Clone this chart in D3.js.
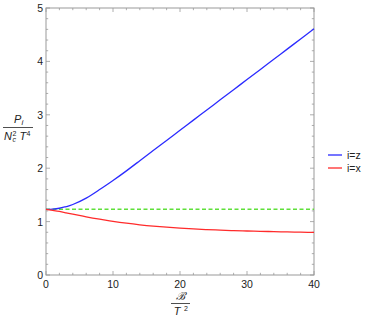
<!DOCTYPE html>
<html><head><meta charset="utf-8">
<script src="https://cdn.jsdelivr.net/npm/d3@7"></script>
<style>body{margin:0;background:#fff}svg{display:block}text{font-family:"Liberation Sans",Arial,sans-serif}</style>
</head><body>
<svg id="c" width="366" height="321"></svg>
<script>
const xs = [0,1,2,3,4,6,8,10,12,14,16,18,20,22,24,26,28,30,32,34,36,38,40];
const blueZ = [1.23,1.235,1.25,1.28,1.32,1.44,1.60,1.77,1.95,2.14,2.33,2.52,2.71,2.90,3.09,3.28,3.47,3.66,3.85,4.04,4.23,4.42,4.61];
const redX = [1.23,1.21,1.19,1.165,1.14,1.09,1.045,1.005,0.97,0.94,0.915,0.895,0.877,0.862,0.85,0.84,0.831,0.824,0.818,0.812,0.807,0.802,0.798];
const greenRef = [1.23,1.23];
const greenX = [0,40];
const xTicks = [0,10,20,30,40];
const yTicks = [0,1,2,3,4,5];
const seriesNames = ["i=z","i=x"];

const svg = d3.select("#c");
const L=46,R=314,T=8,B=275;
const x = d3.scaleLinear().domain([0,40]).range([L,R]);
const y = d3.scaleLinear().domain([0,5]).range([B,T]);
const frameCol="#999";

svg.append("rect").attr("x",L).attr("y",T).attr("width",R-L).attr("height",B-T)
  .attr("fill","none").attr("stroke",frameCol).attr("stroke-width",1);

const xMinor = d3.range(0,40.01,2);
const yMinor = d3.range(0,5.01,0.2);
const tg = svg.append("g").attr("stroke",frameCol).attr("stroke-width",0.8);
xMinor.forEach(v=>{
  const major = xTicks.includes(Math.round(v*100)/100);
  const len = major?4:2.2;
  tg.append("line").attr("x1",x(v)).attr("x2",x(v)).attr("y1",B).attr("y2",B-len);
  tg.append("line").attr("x1",x(v)).attr("x2",x(v)).attr("y1",T).attr("y2",T+len);
});
yMinor.forEach(v=>{
  const r = Math.round(v*100)/100;
  const major = yTicks.includes(r);
  const len = major?4:2.2;
  tg.append("line").attr("y1",y(r)).attr("y2",y(r)).attr("x1",L).attr("x2",L+len);
  tg.append("line").attr("y1",y(r)).attr("y2",y(r)).attr("x1",R).attr("x2",R-len);
});

svg.selectAll(".xl").data(xTicks).enter().append("text")
  .attr("x",d=>x(d)).attr("y",B+13).attr("text-anchor","middle")
  .attr("font-size",10.5).attr("fill","#222").text(d=>d);
svg.selectAll(".yl").data(yTicks).enter().append("text")
  .attr("x",L-3).attr("y",d=>y(d)+4).attr("text-anchor","end")
  .attr("font-size",10.5).attr("fill","#222").text(d=>d);

const line = d3.line().x(d=>x(d[0])).y(d=>y(d[1]));
svg.append("path").datum(greenX.map((v,i)=>[v,greenRef[i]])).attr("d",line)
  .attr("fill","none").attr("stroke","#5fe03a").attr("stroke-width",1.6).attr("stroke-dasharray","4,2.5");
const lineC = d3.line().x(d=>x(d[0])).y(d=>y(d[1])).curve(d3.curveNatural);
svg.append("path").datum(xs.map((v,i)=>[v,blueZ[i]])).attr("d",lineC)
  .attr("fill","none").attr("stroke","#2b2bff").attr("stroke-width",1.3);
svg.append("path").datum(xs.map((v,i)=>[v,redX[i]])).attr("d",lineC)
  .attr("fill","none").attr("stroke","#ff2b2b").attr("stroke-width",1.3);

const lg = svg.append("g");
[["#2b2bff",155],["#ff2b2b",168]].forEach((c,i)=>{
  lg.append("line").attr("x1",328).attr("x2",342).attr("y1",c[1]).attr("y2",c[1]).attr("stroke",c[0]).attr("stroke-width",1.3);
  lg.append("text").attr("x",347).attr("y",c[1]+4).attr("font-size",10.5).attr("fill","#222").text(seriesNames[i]);
});

// y label
const yl = svg.append("g").attr("fill","#222");
yl.append("text").attr("x",14).attr("y",123).attr("font-size",11).attr("font-style","italic").text("P");
yl.append("text").attr("x",21.5).attr("y",125).attr("font-size",8).attr("font-style","italic").text("i");
yl.append("line").attr("x1",3).attr("x2",33).attr("y1",127.5).attr("y2",127.5).attr("stroke","#222").attr("stroke-width",0.8);
yl.append("text").attr("x",4).attr("y",140).attr("font-size",11).attr("font-style","italic").text("N");
yl.append("text").attr("x",12.5).attr("y",136).attr("font-size",7).text("2");
yl.append("text").attr("x",12.5).attr("y",142).attr("font-size",7).attr("font-style","italic").text("c");
yl.append("text").attr("x",19.5).attr("y",140).attr("font-size",11).attr("font-style","italic").text("T");
yl.append("text").attr("x",26.5).attr("y",135.5).attr("font-size",7).text("4");

// x label
const xl = svg.append("g").attr("fill","#222");
xl.append("text").attr("x",180).attr("y",300).attr("text-anchor","middle").attr("font-size",11)
  .attr("font-family","DejaVu Serif").attr("font-style","italic").text("ℬ");
xl.append("line").attr("x1",171).attr("x2",190).attr("y1",303.5).attr("y2",303.5).attr("stroke","#222").attr("stroke-width",0.8);
xl.append("text").attr("x",177).attr("y",315).attr("text-anchor","middle").attr("font-size",11).attr("font-style","italic").text("T");
xl.append("text").attr("x",184).attr("y",311).attr("font-size",7).text("2");
</script>
</body></html>
